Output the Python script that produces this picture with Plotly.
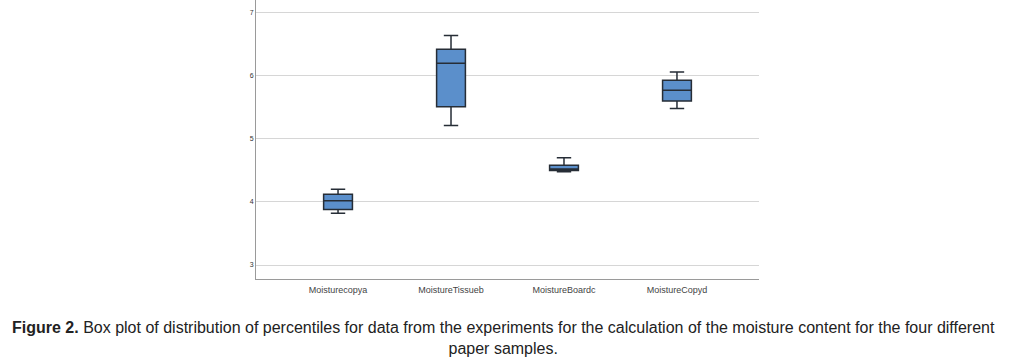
import plotly.graph_objects as go

categories = ["Moisturecopya", "MoistureTissueb", "MoistureBoardc", "MoistureCopyd"]
lower_whisker = [3.82, 5.21, 4.48, 5.48]
q1_values = [3.88, 5.51, 4.50, 5.60]
median_values = [4.02, 6.20, 4.52, 5.77]
q3_values = [4.12, 6.42, 4.58, 5.93]
upper_whisker = [4.20, 6.64, 4.70, 6.06]
y_ticks = [3, 4, 5, 6, 7]

caption = ("<b>Figure 2.</b> Box plot of distribution of percentiles for data from the experiments for the "
           "calculation of the moisture content for the four different<br>paper samples.")

fig = go.Figure()
fig.add_trace(go.Box(
    x=categories,
    q1=q1_values,
    median=median_values,
    q3=q3_values,
    lowerfence=lower_whisker,
    upperfence=upper_whisker,
    fillcolor="#5b8fcb",
    line=dict(color="#262d36", width=1.5),
    whiskerwidth=0.5,
    width=0.255,
    boxpoints=False,
    showlegend=False,
    hoverinfo="skip",
))

fig.update_layout(
    width=1013, height=363,
    margin=dict(l=256, r=254, t=0, b=84, autoexpand=False),
    paper_bgcolor="white", plot_bgcolor="white",
    font=dict(family="Arial, Liberation Sans, sans-serif", color="#333"),
    xaxis=dict(
        type="category", range=[-0.726, 3.726],
        showgrid=False, showline=True, linecolor="#9a9a9a", linewidth=1,
        ticks="", tickfont=dict(size=9, color="#444"), ticklabelstandoff=2,
    ),
    yaxis=dict(
        range=[2.778, 7.201], tickvals=y_ticks,
        showgrid=True, gridcolor="#d6d6d6", gridwidth=1,
        showline=True, linecolor="#9a9a9a", linewidth=1,
        zeroline=False, ticks="", tickfont=dict(size=7, color="#333"),
    ),
    annotations=[dict(
        text=caption, xref="paper", yref="paper", x=0.5, y=-0.135,
        xanchor="center", yanchor="top", showarrow=False, align="center",
        xshift=-4,
        font=dict(family="Arial, Liberation Sans, sans-serif", size=16, color="#222"),
    )],
)

fig.write_html("out.html", config={"displayModeBar": False},
               post_script="document.body.style.margin='0';")
